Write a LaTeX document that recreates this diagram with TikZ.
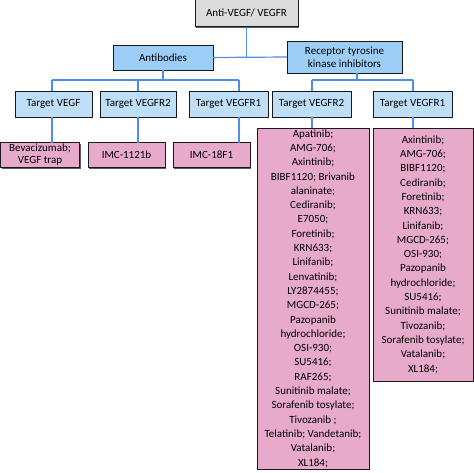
\documentclass[tikz,border=0pt]{standalone}
\usepackage{fontspec}
\setmainfont{Carlito}
\usepackage{xcolor}
\usepackage{tikz}
\usetikzlibrary{shadows}

\definecolor{rootgray}{HTML}{DCDCDC}
\definecolor{groupblue}{HTML}{9CCDF6}
\definecolor{targetblue}{HTML}{BFDFF8}
\definecolor{drugpink}{HTML}{E7AACA}
\definecolor{linkblue}{HTML}{4F8EE8}

\tikzset{
    box/.style={draw=black!90, line width=0.9pt, inner sep=0pt, outer sep=0pt,
        align=center, font=\fontsize{11}{13}\selectfont,
        drop shadow={shadow xshift=1pt, shadow yshift=-1pt, fill=black!75, opacity=0.85}},
    rootbox/.style={box, fill=rootgray},
    groupbox/.style={box, fill=groupblue},
    targetbox/.style={box, fill=targetblue, minimum height=26},
    drugbox/.style={box, fill=drugpink},
    listbox/.style={drugbox, font=\fontsize{11}{14.3}\selectfont},
    link/.style={linkblue, line width=1.2pt}
}

\begin{document}
\begin{tikzpicture}[x=1pt, y=-1pt]
    \useasboundingbox (0,0) rectangle (474,472);

    % Top and group level
    \node[rootbox, minimum width=103, minimum height=27] (root) at (246.5,13) {Anti-VEGF/ VEGFR};
    \node[groupbox, minimum width=100, minimum height=25] (antib) at (163,57.5) {Antibodies};
    \node[groupbox, minimum width=115, minimum height=32] (rtk) at (344.5,57) {Receptor tyrosine\\kinase inhibitors};

    % Targets
    \node[targetbox, minimum width=77] (tvegf) at (53.5,104) {Target VEGF};
    \node[targetbox, minimum width=76] (abr2) at (138,104) {Target VEGFR2};
    \node[targetbox, minimum width=79] (abr1) at (228.5,104) {Target VEGFR1};
    \node[targetbox, minimum width=79] (tkr2) at (311.5,104) {Target VEGFR2};
    \node[targetbox, minimum width=79] (tkr1) at (412.5,104) {Target VEGFR1};

    % Drugs
    \node[drugbox, minimum width=79, minimum height=25, font=\fontsize{11}{12}\selectfont] (beva) at (40,155) {Bevacizumab;\\VEGF trap};
    \node[drugbox, minimum width=77, minimum height=25] (imc1121) at (126.5,155) {IMC-1121b};
    \node[drugbox, minimum width=77, minimum height=25] (imc18) at (211.5,155) {IMC-18F1};
    \node[listbox, minimum width=112, minimum height=341] (tklist2) at (313,298.5)
        {Apatinib;\\AMG-706;\\Axintinib;\\BIBF1120; Brivanib\\alaninate;\\Cediranib;\\E7050;\\Foretinib;\\KRN633;\\Linifanib;\\Lenvatinib;\\LY2874455;\\MGCD-265;\\Pazopanib\\hydrochloride;\\OSI-930;\\SU5416;\\RAF265;\\Sunitinib malate;\\Sorafenib tosylate;\\Tivozanib ;\\Telatinib; Vandetanib;\\Vatalanib;\\XL184;};
    \node[listbox, minimum width=100, minimum height=253] (tklist1) at (423,254.5)
        {Axintinib;\\AMG-706;\\BIBF1120;\\Cediranib;\\Foretinib;\\KRN633;\\Linifanib;\\MGCD-265;\\OSI-930;\\Pazopanib\\hydrochloride;\\SU5416;\\Sunitinib malate;\\Tivozanib;\\Sorafenib tosylate;\\Vatalanib;\\XL184;};

    % Bus points
    \coordinate (dA1) at (52,80);
    \coordinate (dA2) at (138,80);
    \coordinate (dA3) at (239,80);
    \coordinate (dB0) at (357,80);
    \coordinate (dB1) at (312,80);
    \coordinate (dB2) at (413,80);

    % Connectors
    \draw[link] (root.south) -- (root.south |- antib.east);
    \draw[link] (antib.east) -- (rtk.west);
    \draw[link] (antib.south) -- (antib.south |- dA1);
    \draw[link] (dA1) -- (dA3);
    \draw[link] (rtk.south -| dB0) -- (dB0);
    \draw[link] (dB1) -- (dB2);
    \foreach \d/\t/\b in {dA1/tvegf/beva, dA2/abr2/imc1121, dA3/abr1/imc18, dB1/tkr2/tklist2, dB2/tkr1/tklist1} {
        \draw[link] (\d) -- (\t.north -| \d);
        \draw[link] (\t.south -| \d) -- (\b.north -| \d);
    }
\end{tikzpicture}
\end{document}
